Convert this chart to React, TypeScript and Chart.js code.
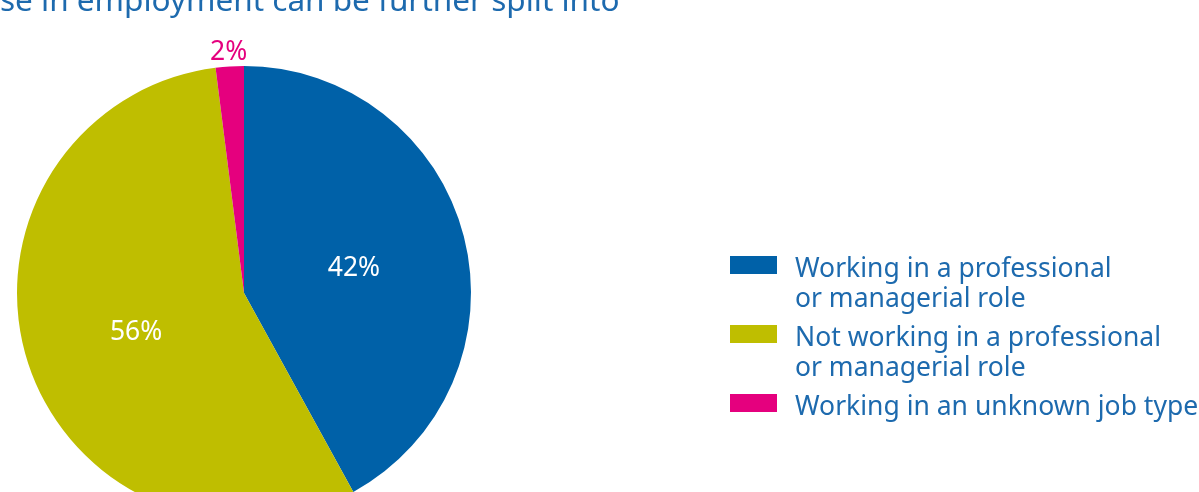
import React, { useEffect, useRef } from "react";
import { Chart, registerables } from "chart.js";

Chart.register(...registerables);

const titleText = "se in employment can be further split into";
const categories = [
  "Working in a professional\nor managerial role",
  "Not working in a professional\nor managerial role",
  "Working in an unknown job type",
];
const shares = [42, 56, 2];
const sliceColors = ["#0061A8", "#BFBE00", "#E5007E"];
const labelColors = ["#FFFFFF", "#FFFFFF", "#E5007E"];

const FONT = "'Noto Sans', 'Open Sans', sans-serif";
const TEXT_BLUE = "#1D6AAE";

const labelPlugin = {
  id: "sliceLabels",
  afterDatasetsDraw(chart: any) {
    const ctx = chart.ctx;
    const meta = chart.getDatasetMeta(0);
    const data = chart.data.datasets[0].data as number[];
    ctx.save();
    ctx.font = `26.5px ${FONT}`;
    ctx.textAlign = "center";
    ctx.textBaseline = "middle";
    meta.data.forEach((arc: any, i: number) => {
      const { x, y, startAngle, endAngle, outerRadius } = arc.getProps(
        ["x", "y", "startAngle", "endAngle", "outerRadius"],
        true
      );
      const mid = (startAngle + endAngle) / 2;
      const small = data[i] < 5;
      const dist = small ? outerRadius + 18 : outerRadius * 0.5;
      ctx.fillStyle = labelColors[i];
      ctx.fillText(
        `${data[i]}%`,
        x + Math.cos(mid) * dist,
        y + Math.sin(mid) * dist + 4
      );
    });
    ctx.restore();
  },
};

export default function App() {
  const canvasRef = useRef<HTMLCanvasElement | null>(null);

  useEffect(() => {
    if (!canvasRef.current) return;
    const chart = new Chart(canvasRef.current, {
      type: "pie",
      data: {
        labels: categories,
        datasets: [
          {
            data: shares,
            backgroundColor: sliceColors,
            borderWidth: 0,
            hoverOffset: 0,
          },
        ],
      },
      options: {
        responsive: false,
        animation: false,
        devicePixelRatio: 1,
        layout: { padding: { left: 17, top: 66, right: 728, bottom: 40 } },
        plugins: {
          legend: { display: false },
          tooltip: { enabled: false },
          title: { display: false },
        },
      },
      plugins: [labelPlugin],
    });
    return () => chart.destroy();
  }, []);

  return (
    <div
      style={{
        position: "absolute",
        left: 0,
        top: 0,
        width: 1199,
        height: 492,
        overflow: "hidden",
        background: "#FFFFFF",
        fontFamily: FONT,
      }}
    >
      <canvas
        ref={canvasRef}
        width={1199}
        height={560}
        style={{ position: "absolute", left: 0, top: 0, width: 1199, height: 560 }}
      />
      <div
        style={{
          position: "absolute",
          left: 0,
          top: -17,
          fontSize: 31.5,
          lineHeight: "31.5px",
          color: TEXT_BLUE,
          whiteSpace: "nowrap",
        }}
      >
        {titleText}
      </div>
      <div style={{ position: "absolute", left: 730, top: 252 }}>
        {categories.map((c, i) => (
          <div key={i} style={{ display: "flex", alignItems: "flex-start", marginBottom: 9 }}>
            <div
              style={{
                width: 47,
                height: 18,
                marginTop: 4,
                background: sliceColors[i],
                flex: "none",
              }}
            />
            <div
              style={{
                marginLeft: 18,
                fontSize: 26.5,
                lineHeight: "30px",
                color: TEXT_BLUE,
                whiteSpace: "pre-line",
              }}
            >
              {c}
            </div>
          </div>
        ))}
      </div>
    </div>
  );
}
